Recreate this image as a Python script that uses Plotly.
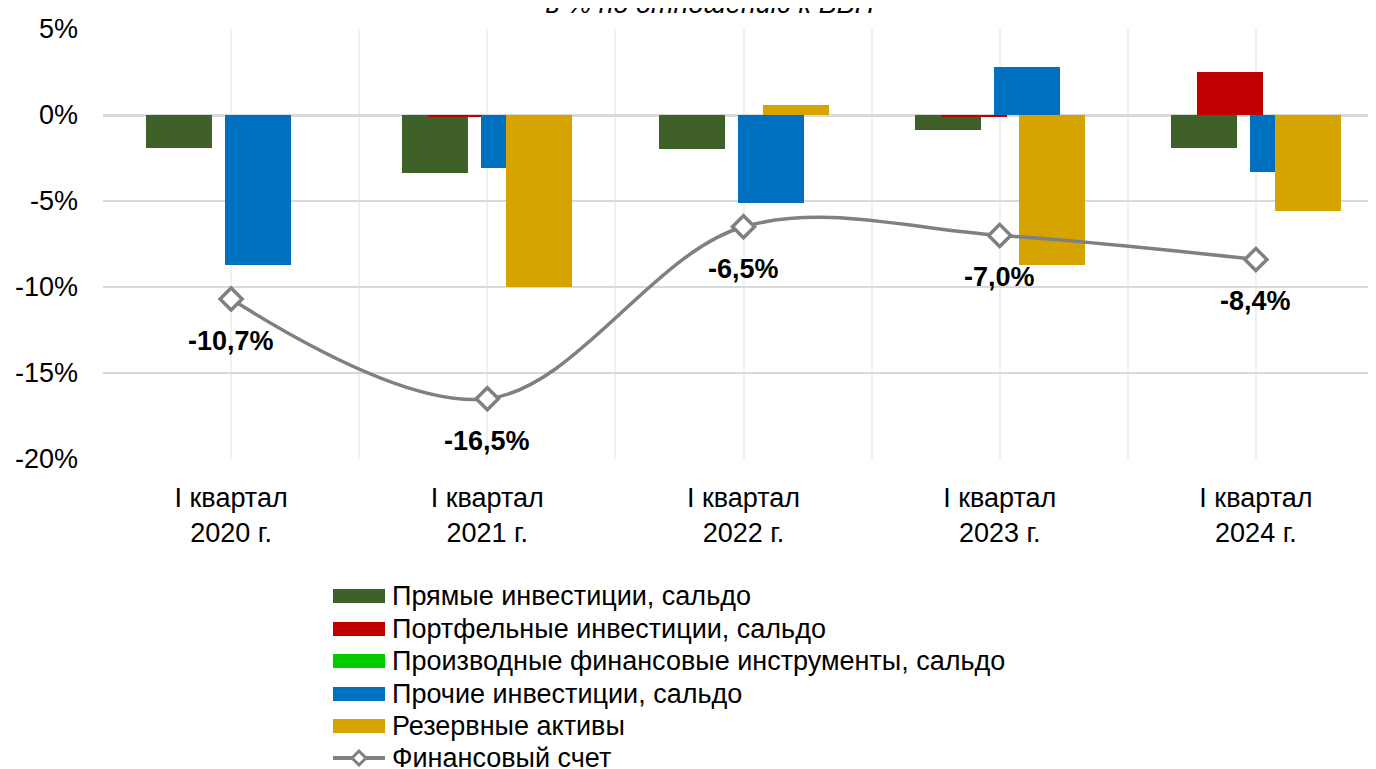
import plotly.graph_objects as go

# ---------------- data ----------------
categories = ["I квартал<br>2020 г.", "I квартал<br>2021 г.", "I квартал<br>2022 г.",
              "I квартал<br>2023 г.", "I квартал<br>2024 г."]
direct_inv = [-1.9, -3.4, -2.0, -0.9, -1.9]
portfolio_inv = [0.0, -0.1, 0.0, -0.1, 2.5]
derivatives = [0.0, 0.0, 0.0, 0.0, 0.0]
other_inv = [-8.7, -3.1, -5.1, 2.8, -3.3]
reserves = [0.0, -10.0, 0.6, -8.7, -5.6]
financial_account = [-10.7, -16.5, -6.5, -7.0, -8.4]
y_tick_vals = [5, 0, -5, -10, -15, -20]
y_tick_text = ["5%", "0%", "-5%", "-10%", "-15%", "-20%"]
series_names = ["Прямые инвестиции, сальдо", "Портфельные инвестиции, сальдо",
                "Производные финансовые инструменты, сальдо", "Прочие инвестиции, сальдо",
                "Резервные активы", "Финансовый счет"]
title_text = "в % по отношению к ВВП"

# ---------------- style ----------------
W, H = 1376, 769
L, T, B = 95, 21, 451            # plot area bounds in figure pixels
UNIT = (W - L) / 5.0             # px per category
colors = ["#3F6129", "#C00000", "#00CC00", "#0070C0", "#D6A400"]
line_color = "#808080"
bar_w = 66 / UNIT
centers = [-52, -26, 0, 27, 52]
FONT = "Liberation Sans, Arial, sans-serif"
FS = 27

xs = list(range(len(categories)))
fig = go.Figure()
for vals, col, c, name in zip([direct_inv, portfolio_inv, derivatives, other_inv, reserves],
                              colors, centers, series_names[:5]):
    fig.add_trace(go.Bar(
        x=xs, y=vals, name=name, width=bar_w,
        offset=c / UNIT - bar_w / 2,
        marker=dict(color=col, line=dict(width=0)),
        showlegend=False))

fig.add_trace(go.Scatter(
    x=xs, y=financial_account, name=series_names[5], mode="lines+markers",
    line=dict(color=line_color, width=3.5, shape="spline", smoothing=1.0),
    marker=dict(symbol="diamond", size=17, color="white",
                line=dict(color=line_color, width=3.5)),
    showlegend=False))

annotations = []
for x, v in zip(xs, financial_account):
    annotations.append(dict(
        x=x, y=v, xref="x", yref="y", showarrow=False,
        text="<b>" + f"{v:.1f}".replace(".", ",") + "%</b>",
        yshift=-42, font=dict(family=FONT, size=FS, color="black")))

# manual legend
def px2paper_x(px):
    return (px - L) / (W - L)

def px2paper_y(py):
    return (B - py) / (B - T)

shapes = []
row_y = [588, 621, 653, 686, 718]
for ry, col in zip(row_y, colors):
    shapes.append(dict(type="rect", xref="paper", yref="paper",
                       x0=px2paper_x(325), x1=px2paper_x(377),
                       y0=px2paper_y(ry + 7), y1=px2paper_y(ry - 7),
                       fillcolor=col, line=dict(width=0)))
ly = 750
shapes.append(dict(type="line", xref="paper", yref="paper",
                   x0=px2paper_x(325), x1=px2paper_x(377),
                   y0=px2paper_y(ly), y1=px2paper_y(ly),
                   line=dict(color=line_color, width=4)))
d = 7
cx = 351
path = (f"M {px2paper_x(cx - d)} {px2paper_y(ly)} L {px2paper_x(cx)} {px2paper_y(ly - d)} "
        f"L {px2paper_x(cx + d)} {px2paper_y(ly)} L {px2paper_x(cx)} {px2paper_y(ly + d)} Z")
shapes.append(dict(type="path", xref="paper", yref="paper", path=path,
                   fillcolor="white", line=dict(color=line_color, width=3)))
for ry, name in zip(row_y + [ly], series_names):
    annotations.append(dict(
        x=px2paper_x(382), y=px2paper_y(ry), xref="paper", yref="paper",
        xanchor="left", yanchor="middle", showarrow=False, text=name,
        font=dict(family=FONT, size=FS, color="black")))

fig.update_layout(
    width=W, height=H,
    margin=dict(l=L, r=0, t=T, b=H - B, pad=0),
    paper_bgcolor="white", plot_bgcolor="white",
    barmode="overlay", bargap=0,
    font=dict(family=FONT, size=FS, color="black"),
    title=dict(text=title_text, x=702 / W, xanchor="center",
               y=0.9935, yanchor="bottom", yref="container",
               font=dict(family=FONT, size=FS, color="black", style="italic")),
    shapes=shapes, annotations=annotations,
    xaxis=dict(range=[-0.5, 4.5], tickvals=xs, ticktext=categories,
               showgrid=True, gridcolor="#F0F0F0", gridwidth=2,
               minor=dict(tickvals=[i + 0.5 for i in range(-1, len(xs))],
                          showgrid=True, gridcolor="#F0F0F0", gridwidth=2),
               zeroline=False, showline=False, ticks="", ticklabelstandoff=20,
               tickfont=dict(family=FONT, size=FS, color="black")),
    yaxis=dict(range=[-20, 5], tickvals=y_tick_vals, ticktext=y_tick_text,
               showgrid=True, gridcolor="#D9D9D9", gridwidth=1.5,
               zeroline=True, zerolinecolor="#D9D9D9", zerolinewidth=3,
               showline=False, ticks="", ticklabelstandoff=24,
               tickfont=dict(family=FONT, size=FS, color="black")),
)

fig.write_html("out.html")
